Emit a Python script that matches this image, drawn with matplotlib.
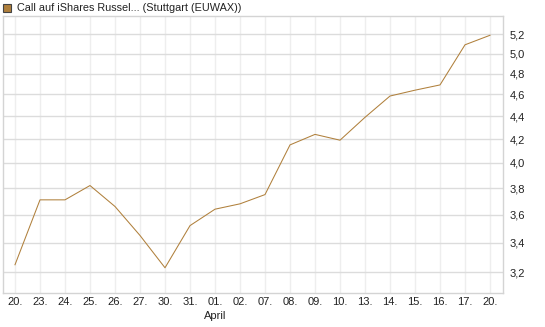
import numpy as np
import matplotlib
matplotlib.use("Agg")
import matplotlib.pyplot as plt
from matplotlib.ticker import FixedLocator, NullLocator, FuncFormatter
from matplotlib.patches import Rectangle

plt.rcParams['font.family'] = ['Liberation Sans', 'DejaVu Sans']

# data
day_labels = ["20.", "23.", "24.", "25.", "26.", "27.", "30.", "31.", "01.", "02.",
              "07.", "08.", "09.", "10.", "13.", "14.", "15.", "16.", "17.", "20."]
prices = [3.25, 3.71, 3.71, 3.82, 3.66, 3.45, 3.23, 3.52, 3.64, 3.68,
          3.75, 4.15, 4.24, 4.19, 4.39, 4.585, 4.64, 4.69, 5.09, 5.19]
y_ticks = [3.2, 3.4, 3.6, 3.8, 4.0, 4.2, 4.4, 4.6, 4.8, 5.0, 5.2]
title = "Call auf iShares Russel... (Stuttgart (EUWAX))"
month_label = "April"
month_at = 8

line_color = '#b0803c'

fig = plt.figure(figsize=(5.45, 3.27), dpi=100)
W, H = 545, 327
ax = fig.add_axes([2.5 / W, 1 - 293 / H, (503 - 2.5) / W, (293 - 16) / H])

x = np.arange(len(prices))
ax.plot(x, prices, color=line_color, linewidth=0.75)

ax.set_yscale('log')
ax.set_ylim(3.068, 5.398)
ax.set_xlim(-0.5, len(prices) - 0.48)

ax.yaxis.set_major_locator(FixedLocator(y_ticks))
ax.yaxis.set_minor_locator(NullLocator())
ax.yaxis.set_major_formatter(FuncFormatter(lambda v, p: f"{v:.1f}".replace('.', ',')))
ax.yaxis.tick_right()
ax.tick_params(axis='y', length=0, pad=5, labelsize=8, labelcolor='#222222')

ax.set_xticks(x)
ax.set_xticklabels(day_labels)
ax.tick_params(axis='x', length=0, pad=3, labelsize=8, labelcolor='#222222')

ax.grid(axis='y', color='#dcdcdc', linewidth=1)
ax.grid(axis='x', color='#eeeeee', linewidth=1)
ax.set_axisbelow(True)
for s in ax.spines.values():
    s.set_color('#d4d4d4')
    s.set_linewidth(1)

# month label under the first April day
fig.text((2.5 + (month_at + 0.5) * 25) / W, 1 - 316 / H, month_label,
         ha='center', va='center', fontsize=8, color='#222222')

# legend-like title
fig.patches.append(Rectangle((3 / W, 1 - 12 / H), 8 / W, 8 / H, transform=fig.transFigure,
                             facecolor=line_color, edgecolor='#444444', linewidth=0.8))
fig.text(17 / W, 1 - 8 / H, title, ha='left', va='center', fontsize=7.8, color='#222222')

fig.savefig("out.png", dpi=100)
